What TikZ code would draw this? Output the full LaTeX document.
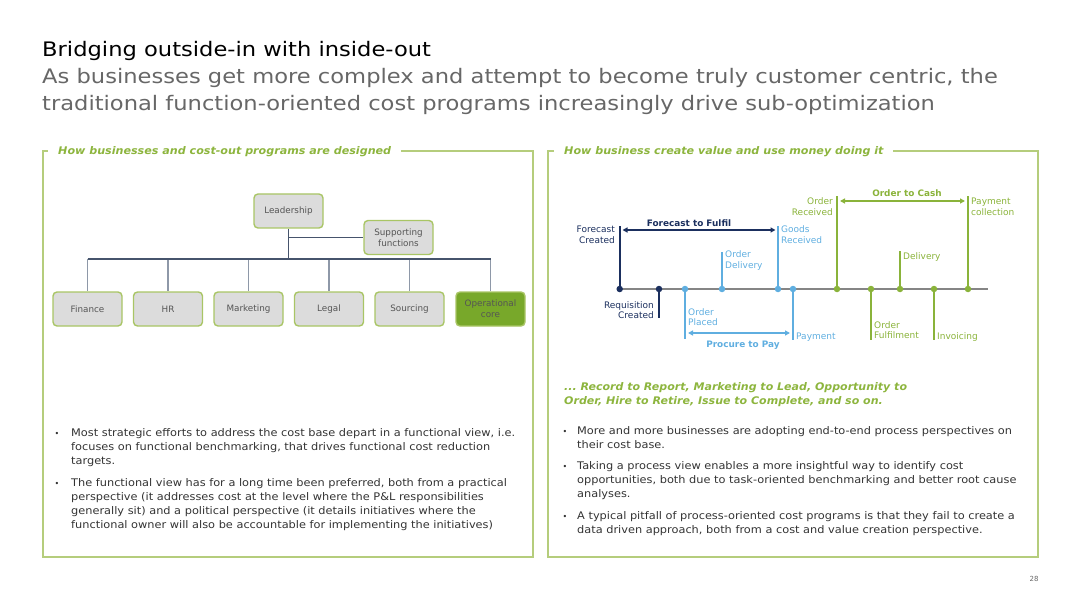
\documentclass[tikz,border=0pt]{standalone}
\usepackage{fontspec}
\setmainfont{DejaVu Sans}
\newfontfamily\titleface{DejaVu Sans}[FakeStretch=1.13]
\newfontfamily\bodyface{DejaVu Sans}[FakeStretch=1.08]
\newfontfamily\headface{DejaVu Sans}[FakeStretch=1.06]
\newfontfamily\noteface{DejaVu Sans}[FakeStretch=1.05]
\usetikzlibrary{arrows.meta}

\definecolor{framegreen}{HTML}{B5CD7C}
\definecolor{headgreen}{HTML}{8DB53E}
\definecolor{navy}{HTML}{1B2F5E}
\definecolor{skyblue}{HTML}{5FAEE0}
\definecolor{leafgreen}{HTML}{8AB33A}
\definecolor{axisgray}{HTML}{858585}
\definecolor{boxgray}{HTML}{DCDCDC}
\definecolor{boxedge}{HTML}{A9C565}
\definecolor{opgreen}{HTML}{78A82A}
\definecolor{bodytext}{HTML}{333333}
\definecolor{subgray}{HTML}{676767}
\definecolor{unittext}{HTML}{555555}
\definecolor{linkdark}{HTML}{46546C}
\definecolor{linklight}{HTML}{8E98A8}

\begin{document}
\frenchspacing
\begin{tikzpicture}[x=1pt,y=-1pt,
  every node/.style={inner sep=0pt},
  unit/.style={draw=boxedge, line width=1.4pt, fill=boxgray, rounded corners=4pt,
    minimum width=69pt, minimum height=34pt, align=center,
    font=\fontsize{8.8}{10.6}\selectfont, text=unittext},
  corebox/.style={unit, fill=opgreen, text=unittext},
  panel/.style={draw=framegreen, line width=1.2pt},
  head/.style={fill=white, inner xsep=10pt, inner ysep=3pt,
    font=\headface\fontsize{10.5}{12}\selectfont\bfseries\itshape, text=headgreen},
  body/.style={align=left, font=\bodyface\fontsize{10.5}{14}\selectfont, text=bodytext},
  bul/.style={font=\fontsize{8}{10}\selectfont, text=bodytext},
  bigline/.style={font=\titleface\fontsize{20}{24}\selectfont},
  link/.style={draw=linkdark, line width=1.3pt},
  branch/.style={draw=linklight, line width=1.2pt},
  stem/.style={line width=2pt},
  dot/.style={circle, minimum size=6.5pt},
  tl/.style={font=\fontsize{9}{10.7}\selectfont},
  span/.style={line width=1.4pt, {Triangle[length=5pt,width=5pt]}-{Triangle[length=5pt,width=5pt]}},
  spanlabel/.style={font=\fontsize{8.9}{11}\selectfont\bfseries}
]
\useasboundingbox (0,0) rectangle (1080,607);

% ---------- heading ----------
\node[bigline, anchor=base west, text=black] (title) at (42,57)
  {Bridging outside-in with inside-out};
\node[bigline, anchor=base west, text=subgray] (sub1) at (42,84)
  {As businesses get more complex and attempt to become truly customer centric, the};
\node[bigline, anchor=base west, text=subgray] (sub2) at (42,111)
  {traditional function-oriented cost programs increasingly drive sub-optimization};

% ---------- panels ----------
\draw[panel] (43,151) rectangle (533,557);
\draw[panel] (548,151) rectangle (1038,557);
\node[head, anchor=base west] (lhead) at (48,155) {How businesses and cost-out programs are designed};
\node[head, anchor=base west] (rhead) at (554,155) {How business create value and use money doing it};

% ---------- functional organisation ----------
\node[unit] (lead) at (288.5,211) {Leadership};
\node[unit] (supp) at (398.5,237.5) {Supporting\\functions};
\node[unit] (fin) at (87.5,309) {Finance};
\node[unit] (hr) at (168,309) {HR};
\node[unit] (mkt) at (248.5,309) {Marketing};
\node[unit] (legal) at (329,309) {Legal};
\node[unit] (src) at (409.5,309) {Sourcing};
\node[corebox] (core) at (490.5,309) {Operational\\core};

\coordinate (busM) at (288.5,259);
\foreach \u in {fin,hr,mkt,legal,src,core}
  \draw[branch] (\u.north |- busM) -- (\u.north);
\draw[link] (fin.north |- busM) -- (core.north |- busM);
\draw[link] (lead.south) -- (busM);
\draw[link] (lead.south |- supp.west) -- (supp.west);

% ---------- left bullets (multi-line nodes sit on their last baseline) ----------
\node[bul, anchor=base] (lb1) at (57,436) {•};
\node[body, anchor=base west] (lt1) at (71,464)
  {Most strategic efforts to address the cost base depart in a functional view, i.e.\\
   focuses on functional benchmarking, that drives functional cost reduction\\
   targets.};
\node[bul, anchor=base] (lb2) at (57,486) {•};
\node[body, anchor=base west] (lt2) at (71,528)
  {The functional view has for a long time been preferred, both from a practical\\
   perspective (it addresses cost at the level where the P\&L responsibilities\\
   generally sit) and a political perspective (it details initiatives where the\\
   functional owner will also be accountable for implementing the initiatives)};

% ---------- process timeline ----------
\coordinate (axL) at (618,289);
\coordinate (axR) at (988,289);
\draw[axisgray, line width=1.6pt] (axL) -- (axR);

% event markers on the axis
\node[dot] (fc) at (619.7,289) {};
\node[dot] (rq) at (659,289) {};
\node[dot] (op) at (685,289) {};
\node[dot] (od) at (722,289) {};
\node[dot] (gr) at (778,289) {};
\node[dot] (pay) at (793,289) {};
\node[dot] (orc) at (837,289) {};
\node[dot] (ofu) at (871,289) {};
\node[dot] (dlv) at (900,289) {};
\node[dot] (inv) at (934,289) {};
\node[dot] (pc) at (968,289) {};

% stem ends
\coordinate (fcT) at (619.7,226);
\coordinate (rqB) at (659,318);
\coordinate (opB) at (685,339);
\coordinate (odT) at (722,252);
\coordinate (grT) at (778,226);
\coordinate (payB) at (793,340);
\coordinate (orcT) at (837,196);
\coordinate (ofuB) at (871,340);
\coordinate (dlvT) at (900,251);
\coordinate (invB) at (934,340);
\coordinate (pcT) at (968,196);

\draw[stem, navy] (fc.center) -- (fcT);
\draw[stem, navy] (rq.center) -- (rqB);
\draw[stem, skyblue] (op.center) -- (opB);
\draw[stem, skyblue] (od.center) -- (odT);
\draw[stem, skyblue] (gr.center) -- (grT);
\draw[stem, skyblue] (pay.center) -- (payB);
\draw[stem, leafgreen] (orc.center) -- (orcT);
\draw[stem, leafgreen] (ofu.center) -- (ofuB);
\draw[stem, leafgreen] (dlv.center) -- (dlvT);
\draw[stem, leafgreen] (inv.center) -- (invB);
\draw[stem, leafgreen] (pc.center) -- (pcT);

% filled markers above their stems
\foreach \d/\c in {fc/navy,rq/navy,op/skyblue,od/skyblue,gr/skyblue,pay/skyblue,
                   orc/leafgreen,ofu/leafgreen,dlv/leafgreen,inv/leafgreen,pc/leafgreen}
  \fill[\c] (\d.center) circle (3.25pt);

% spans between milestones
\coordinate (ffL) at (622.5,230);
\coordinate (ffR) at (775.5,230);
\draw[span, navy] (ffL) -- (ffR);
\coordinate (ppL) at (688,333);
\coordinate (ppR) at (790,333);
\draw[span, skyblue] (ppL) -- (ppR);
\coordinate (ocL) at (840,201);
\coordinate (ocR) at (965,201);
\draw[span, leafgreen] (ocL) -- (ocR);

\node[spanlabel, text=navy, anchor=base] (ffLab) at (689,226.5) {Forecast to Fulfil};
\node[spanlabel, text=skyblue, anchor=base] (ppLab) at (743,347.5) {Procure to Pay};
\node[spanlabel, text=leafgreen, anchor=base] (ocLab) at (907,196.5) {Order to Cash};

% milestone labels (two-line labels are placed by their second baseline)
\node[tl, text=navy, align=right, anchor=base east] (fcLab) at (615,243.3) {Forecast\\Created};
\node[tl, text=navy, align=right, anchor=base east] (rqLab) at (654,318.7) {Requisition\\Created};
\node[tl, text=skyblue, align=left, anchor=base west] (opLab) at (688,325.7) {Order\\Placed};
\node[tl, text=skyblue, align=left, anchor=base west] (odLab) at (725,268.2) {Order\\Delivery};
\node[tl, text=skyblue, align=left, anchor=base west] (grLab) at (781,243.2) {Goods\\Received};
\node[tl, text=skyblue, anchor=base west] (payLab) at (796,339.5) {Payment};
\node[tl, text=leafgreen, align=right, anchor=base east] (orcLab) at (833,215.2) {Order\\Received};
\node[tl, text=leafgreen, align=left, anchor=base west] (pcLab) at (971,215.2) {Payment\\collection};
\node[tl, text=leafgreen, anchor=base west] (dlvLab) at (903,259.5) {Delivery};
\node[tl, text=leafgreen, align=left, anchor=base west] (ofuLab) at (874,338.7) {Order\\Fulfilment};
\node[tl, text=leafgreen, anchor=base west] (invLab) at (937,339.5) {Invoicing};

% ---------- right text ----------
\node[anchor=base west, align=left, font=\noteface\fontsize{10.5}{14.5}\selectfont\bfseries\itshape,
      text=headgreen] (more) at (564,404.5)
  {... Record to Report, Marketing to Lead, Opportunity to\\
   Order, Hire to Retire, Issue to Complete, and so on.};

\node[bul, anchor=base] (rb1) at (565,434) {•};
\node[body, anchor=base west] (rt1) at (577,448)
  {More and more businesses are adopting end-to-end process perspectives on\\
   their cost base.};
\node[bul, anchor=base] (rb2) at (565,469) {•};
\node[body, anchor=base west] (rt2) at (577,497)
  {Taking a process view enables a more insightful way to identify cost\\
   opportunities, both due to task-oriented benchmarking and better root cause\\
   analyses.};
\node[bul, anchor=base] (rb3) at (565,519) {•};
\node[body, anchor=base west] (rt3) at (577,533)
  {A typical pitfall of process-oriented cost programs is that they fail to create a\\
   data driven approach, both from a cost and value creation perspective.};

% page number
\node[anchor=base, font=\fontsize{7}{8}\selectfont, text=subgray] (page) at (1034,581) {28};
\end{tikzpicture}
\end{document}
